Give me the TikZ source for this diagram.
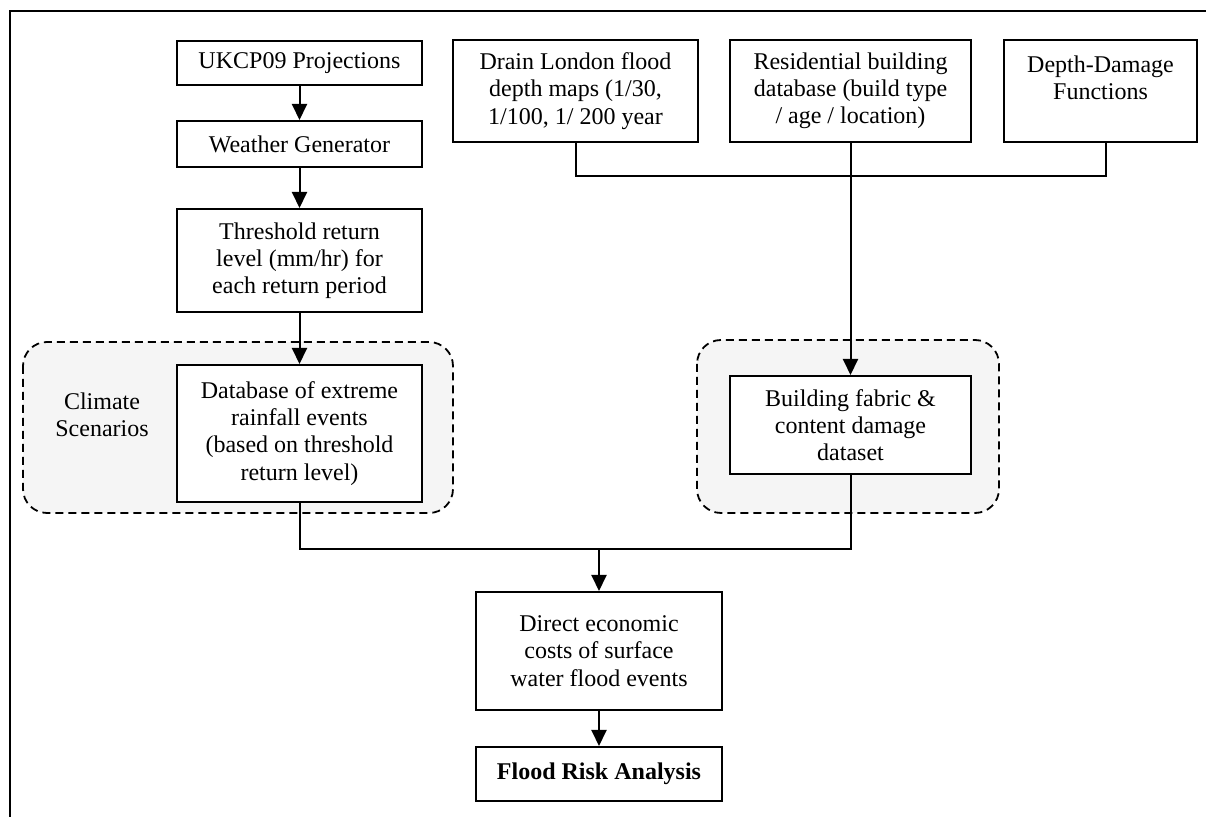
\documentclass[tikz,border=0pt]{standalone}
\usepackage{fontspec}
\setmainfont{Liberation Serif}
\usetikzlibrary{arrows.meta,positioning}
\definecolor{GroupGrey}{HTML}{F5F5F5}

\begin{document}
\begin{tikzpicture}[x=0.5pt,y=-0.5pt,
    box/.style={draw,fill=white,line width=1pt,align=center,inner sep=2pt,
      font=\fontsize{12}{13.6}\selectfont,minimum width=122.5pt},
    flow/.style={line width=1pt,-{Triangle[length=8pt,width=7.5pt]}},
    link/.style={line width=1pt},
    group/.style={draw,dash pattern=on 4pt off 2.5pt,line width=0.9pt,
      fill=GroupGrey,rounded corners=12pt}]
  \useasboundingbox (0,0) rectangle (1206,817);
  \draw[line width=1.4pt] (10,817) -- (10,11) -- (1206,11);

  % dashed groups
  \draw[group] (23,342) rectangle (453,513);
  \draw[group] (697,340) rectangle (999,513);
  \node[align=center,font=\fontsize{12}{13.6}\selectfont] (climLbl) at (102,415) {Climate\\Scenarios};

  % left column
  \node[box,minimum height=22pt] (ukcp) at (299.5,63) {UKCP09 Projections};
  \node[box,minimum height=23pt] (wgen) at (299.5,144) {Weather Generator};
  \node[box,minimum height=51.5pt] (thresh) at (299.5,260.5) {Threshold return\\level (mm/hr) for\\each return period};
  \node[box,minimum height=68.5pt] (rainDB) at (299.5,433.5) {Database of extreme\\rainfall events\\(based on threshold\\return level)};

  % top row
  \node[box,minimum height=51pt] (drain) at (575.5,91) {Drain London flood\\depth maps (1/30,\\1/100, 1/ 200 year};
  \node[box,minimum width=120.5pt,minimum height=51pt] (resid) at (850.5,91) {Residential building\\database (build type\\/ age / location)};
  \node[box,minimum width=96.5pt,minimum height=51pt] (ddf) at (1100.5,91) {Depth-Damage\\Functions\\\mbox{}};

  % damage and results
  \node[box,minimum width=120.5pt,minimum height=49pt] (fabric) at (850.5,425) {Building fabric \&\\content damage\\dataset};
  \node[box,minimum width=123pt,minimum height=59pt] (costs) at (599,651) {Direct economic\\costs of surface\\water flood events};
  \node[box,minimum width=123pt,minimum height=27pt,font=\fontsize{12}{13.6}\selectfont\bfseries] (fra) at (599,774) {Flood Risk Analysis};

  \draw[flow] (ukcp) -- (wgen);
  \draw[flow] (wgen) -- (thresh);
  \draw[flow] (thresh) -- (rainDB);
  \draw[link] (drain.south) -- ++(0,33) -| ([xshift=2.5pt]ddf.south);
  \draw[flow] (resid) -- (fabric);
  \coordinate (jn) at (599,549);
  \draw[link] (rainDB.south) |- (jn) -| (fabric.south);
  \draw[flow] (jn) -- (costs);
  \draw[flow] (costs) -- (fra);
\end{tikzpicture}
\end{document}
